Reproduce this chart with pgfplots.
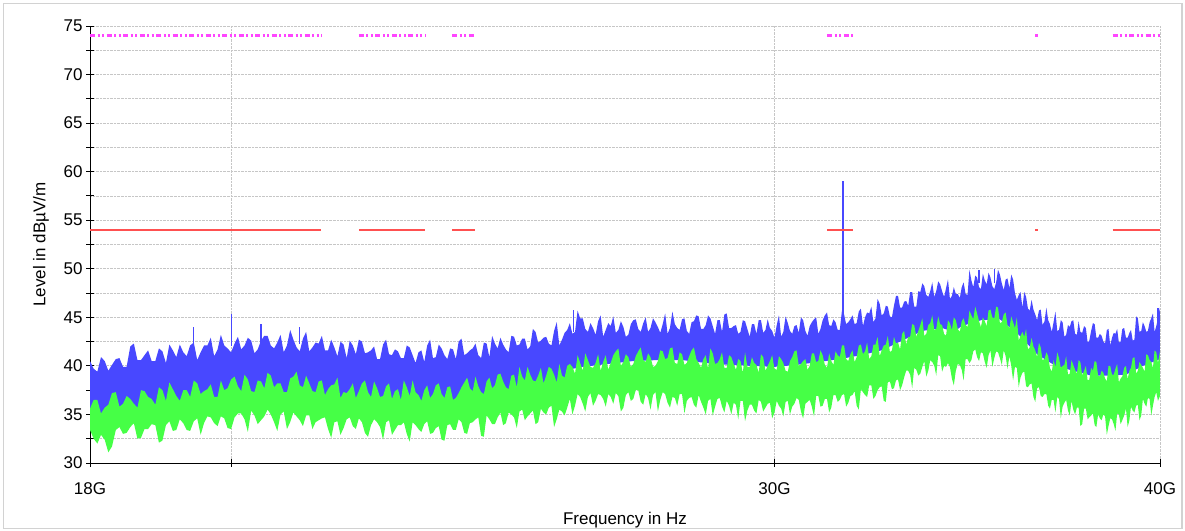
\documentclass[border=0pt]{standalone}
\usepackage{fontspec}
\setmainfont{Liberation Sans}
\usepackage{pgfplots}
\usepackage{pgfplotstable}
\pgfplotsset{compat=1.18}
\usepgfplotslibrary{fillbetween}

\definecolor{cblue}{RGB}{72,72,255}
\definecolor{cgreen}{RGB}{70,255,70}
\definecolor{cred}{RGB}{255,80,80}
\definecolor{cmag}{RGB}{255,70,255}

% f [GHz], blue (peak) upper edge, green (average) upper and lower edge [dBuV/m]
\pgfplotstableread{
f bt gt gb
18.00 40.5 35.6 33.4
18.05 39.7 36.5 32.5
18.10 39.4 36.5 32.0
18.15 40.9 35.1 32.9
18.20 40.5 35.7 32.4
18.25 39.5 36.0 31.1
18.30 40.1 37.2 31.7
18.35 40.7 37.3 33.4
18.40 40.8 35.8 33.7
18.45 39.9 36.1 33.0
18.50 39.9 36.9 33.1
18.55 42.0 36.6 33.7
18.60 42.3 36.1 34.1
18.65 40.6 35.7 32.5
18.70 40.6 37.5 32.6
18.75 41.1 37.4 33.5
18.80 41.6 36.8 33.5
18.85 40.5 36.6 34.0
18.90 40.5 36.0 33.9
18.95 41.8 37.8 32.1
19.00 41.5 37.5 32.3
19.05 40.3 36.4 33.9
19.10 42.2 38.3 34.3
19.15 41.6 37.6 33.3
19.20 40.9 36.9 33.4
19.25 42.2 36.4 34.5
19.30 41.4 37.5 34.1
19.35 41.0 37.5 33.4
19.40 42.1 36.8 33.3
19.45 42.4 38.5 34.3
19.50 40.6 38.2 34.6
19.55 41.4 37.1 32.9
19.60 42.1 37.4 34.1
19.65 42.1 37.6 34.8
19.70 42.9 38.1 34.7
19.75 41.0 36.8 34.1
19.80 41.7 36.8 33.8
19.85 43.2 38.5 34.8
19.90 42.1 37.5 34.6
19.95 41.8 37.7 33.6
20.00 41.4 38.6 33.5
20.05 42.3 38.9 34.7
20.10 43.0 37.9 35.1
20.15 41.7 37.4 35.1
20.20 42.1 39.1 34.5
20.25 42.9 38.6 33.2
20.30 42.6 37.4 35.4
20.35 41.3 37.3 34.9
20.40 41.7 38.5 34.0
20.45 42.6 38.4 34.4
20.50 43.1 37.7 34.8
20.55 43.1 39.3 35.5
20.60 42.1 39.0 35.0
20.65 41.8 37.8 34.2
20.70 42.4 38.2 33.3
20.75 43.2 38.2 35.0
20.80 41.4 37.3 35.3
20.85 42.1 37.3 33.5
20.90 43.7 38.7 34.2
20.95 42.7 38.9 35.2
21.00 41.9 39.4 34.8
21.05 41.5 38.0 34.4
21.10 42.8 37.8 33.8
21.15 43.5 39.0 34.9
21.20 41.5 38.2 34.9
21.25 41.9 37.4 33.5
21.30 42.4 37.3 34.2
21.35 42.3 38.4 34.4
21.40 43.1 38.5 34.6
21.45 41.6 37.0 34.7
21.50 41.6 37.6 33.5
21.55 42.7 38.0 32.6
21.60 41.9 38.1 34.2
21.65 41.0 38.8 34.3
21.70 42.5 36.7 32.9
21.75 42.2 37.3 33.6
21.80 40.8 37.2 34.5
21.85 42.6 37.6 34.7
21.90 42.1 38.2 33.8
21.95 41.2 36.7 33.5
22.00 42.7 37.4 34.6
22.05 42.5 38.2 34.2
22.10 41.3 38.5 33.1
22.15 41.4 37.3 32.7
22.20 41.6 36.8 33.9
22.25 42.0 38.4 34.5
22.30 40.7 37.7 34.2
22.35 40.7 36.8 33.7
22.40 42.2 36.9 32.4
22.45 42.7 37.9 34.2
22.50 41.2 38.2 34.4
22.55 41.1 36.6 32.9
22.60 41.7 37.4 33.4
22.65 41.5 37.6 33.9
22.70 40.8 36.5 33.9
22.75 40.8 38.5 34.2
22.80 42.1 37.8 33.0
22.85 41.9 36.9 32.2
22.90 41.1 38.5 34.2
22.95 40.3 37.3 33.9
23.00 41.4 37.0 33.5
23.05 41.6 36.4 33.2
23.10 40.4 37.5 34.0
23.15 42.1 38.0 34.3
23.20 42.7 36.7 33.0
23.25 40.8 37.1 33.1
23.30 40.9 38.0 33.6
23.35 42.2 38.2 33.8
23.40 41.8 37.1 32.4
23.45 41.1 36.7 32.3
23.50 40.7 37.8 33.9
23.55 41.8 37.9 34.0
23.60 41.7 36.5 33.4
23.65 40.7 36.7 33.4
23.70 42.5 37.2 34.5
23.75 42.8 37.8 34.2
23.80 41.1 38.3 33.1
23.85 41.3 38.8 33.0
23.90 41.6 37.7 34.1
23.95 41.8 37.4 34.2
24.00 42.3 38.9 34.5
24.05 41.1 37.9 34.7
24.10 40.8 37.3 32.8
24.15 42.4 37.1 32.7
24.20 42.3 38.4 34.9
24.25 40.9 38.8 34.5
24.30 43.1 37.7 34.0
24.35 42.3 38.0 34.0
24.40 41.8 39.1 34.7
24.45 42.9 39.2 35.2
24.50 42.2 38.4 33.9
24.55 41.7 37.8 34.1
24.60 41.4 37.6 35.2
24.65 43.1 39.0 35.0
24.70 43.0 39.1 34.7
24.75 42.1 37.8 33.6
24.80 42.2 39.9 35.3
24.85 42.8 38.9 35.5
24.90 42.8 38.5 34.4
24.95 41.7 39.9 34.8
25.00 42.0 39.1 35.1
25.05 43.8 38.5 35.4
25.10 43.5 38.4 34.0
25.15 42.4 39.0 34.2
25.20 42.6 39.8 35.6
25.25 42.9 38.2 35.2
25.30 43.0 39.0 35.0
25.35 42.3 39.9 35.7
25.40 42.1 39.7 35.9
25.45 43.6 39.1 33.7
25.50 44.5 38.3 34.5
25.55 42.1 40.2 35.5
25.60 42.7 39.0 35.3
25.65 43.4 38.8 34.9
25.70 43.7 40.0 35.7
25.75 44.4 40.2 36.6
25.80 43.3 39.9 35.0
25.85 43.5 39.2 35.9
25.90 45.7 41.1 37.1
25.95 44.9 40.3 36.8
26.00 44.9 39.5 36.1
26.05 43.8 41.3 35.3
26.10 43.5 40.6 36.8
26.15 44.4 39.9 37.2
26.20 43.9 39.8 35.9
26.25 43.2 40.3 36.4
26.30 44.6 41.2 37.1
26.35 45.2 39.5 37.0
26.40 43.0 40.4 36.6
26.45 43.7 41.1 35.8
26.50 44.4 39.6 37.1
26.55 44.1 40.3 36.8
26.60 45.1 41.1 36.1
26.65 43.4 41.5 37.2
26.70 43.7 41.8 36.9
26.75 44.6 40.0 35.3
26.80 44.0 40.4 35.7
26.85 43.0 41.2 37.0
26.90 43.2 40.9 37.3
26.95 44.3 39.9 36.4
27.00 44.7 40.2 36.6
27.05 44.8 41.0 37.5
27.10 43.8 41.5 37.5
27.15 43.5 41.9 36.3
27.20 44.4 40.6 36.0
27.25 45.0 40.4 37.1
27.30 43.5 41.3 36.7
27.35 43.9 40.9 35.5
27.40 44.9 39.9 37.0
27.45 44.5 40.0 37.3
27.50 44.0 40.5 35.3
27.55 43.4 41.6 36.5
27.60 44.3 41.5 37.3
27.65 45.4 40.7 37.1
27.70 43.3 40.8 36.2
27.75 43.9 41.8 35.7
27.80 45.6 41.9 36.8
27.85 44.3 40.3 36.7
27.90 43.9 40.2 35.9
27.95 43.7 41.4 37.1
28.00 44.8 41.2 37.1
28.05 44.9 40.1 35.1
28.10 43.6 40.3 36.4
28.15 43.3 41.0 36.7
28.20 44.5 41.6 36.8
28.25 44.6 41.9 36.0
28.30 45.2 40.7 35.7
28.35 45.1 40.3 37.0
28.40 43.8 39.8 36.3
28.45 43.8 40.7 35.7
28.50 44.2 41.1 35.0
28.55 45.2 39.7 36.4
28.60 44.9 41.8 36.6
28.65 44.1 41.3 34.9
28.70 43.3 40.2 35.8
28.75 44.7 40.3 36.6
28.80 44.7 40.7 36.7
28.85 43.5 41.4 35.8
28.90 45.3 39.8 35.2
28.95 45.4 39.8 36.4
29.00 43.9 41.1 35.9
29.05 43.9 40.9 35.0
29.10 44.1 40.2 36.2
29.15 44.2 39.6 36.0
29.20 43.3 40.7 34.5
29.25 43.5 40.5 36.4
29.30 44.7 39.3 36.4
29.35 44.6 41.4 34.3
29.40 43.8 39.9 35.4
29.45 43.0 39.9 36.0
29.50 44.3 40.9 36.0
29.55 44.3 40.3 35.4
29.60 43.3 40.1 35.1
29.65 44.7 39.3 36.5
29.70 44.7 41.2 36.3
29.75 43.4 40.9 35.3
29.80 43.7 39.5 35.7
29.85 44.8 40.0 36.1
29.90 43.9 40.5 36.2
29.95 43.6 41.1 34.6
30.00 42.9 39.7 35.2
30.05 44.2 39.6 36.4
30.10 45.2 41.0 35.9
30.15 43.0 40.7 35.6
30.20 43.5 40.3 34.8
30.25 45.1 39.5 36.3
30.30 44.4 39.4 36.4
30.35 43.6 40.5 35.0
30.40 43.3 40.9 35.8
30.45 44.1 41.5 36.1
30.50 44.2 41.6 36.7
30.55 43.4 40.0 36.5
30.60 45.0 40.2 35.3
30.65 44.7 40.5 34.6
30.70 43.6 40.7 36.1
30.75 43.1 39.6 36.3
30.80 44.1 40.0 36.5
30.85 44.5 41.3 35.8
30.90 44.8 41.3 34.8
30.95 45.0 40.4 36.9
31.00 43.3 40.5 36.9
31.05 43.8 41.6 35.8
31.10 44.7 41.1 35.9
31.15 45.2 40.1 36.6
31.20 45.5 39.8 36.6
31.25 44.2 41.3 35.2
31.30 44.1 40.5 35.7
31.35 44.8 40.1 37.0
31.40 44.5 41.5 37.0
31.45 43.7 41.1 36.3
31.50 43.7 40.9 36.5
31.55 45.7 42.1 37.0
31.60 45.3 42.1 37.1
31.65 44.3 40.7 35.8
31.70 44.5 40.5 36.2
31.75 44.8 41.2 36.9
31.80 45.2 41.6 37.0
31.85 44.3 40.4 37.4
31.90 44.4 40.9 35.9
31.95 45.6 42.1 35.5
32.00 45.9 42.2 37.6
32.05 44.1 41.2 37.3
32.10 45.0 41.5 37.0
32.15 45.5 42.4 36.8
32.20 45.4 40.7 38.0
32.25 46.1 41.0 38.0
32.30 44.5 42.2 36.6
32.35 44.9 42.2 36.9
32.40 46.9 43.0 37.5
32.45 46.4 41.0 37.8
32.50 45.2 41.6 37.9
32.55 45.4 42.1 36.4
32.60 46.2 42.2 36.3
32.65 46.1 43.1 38.3
32.70 45.1 41.4 38.4
32.75 45.0 41.6 37.6
32.80 46.2 43.0 37.7
32.85 47.2 42.3 38.5
32.90 47.2 42.4 38.6
32.95 46.0 41.7 37.5
33.00 46.0 43.3 38.0
33.05 46.6 43.6 38.8
33.10 46.7 42.2 39.5
33.15 46.2 43.0 39.5
33.20 47.6 43.0 39.1
33.25 47.6 44.3 37.7
33.30 46.1 44.2 39.8
33.35 46.1 43.0 39.6
33.40 47.7 43.6 39.0
33.45 47.6 44.2 39.2
33.50 48.5 44.9 39.9
33.55 48.2 43.1 40.5
33.60 47.3 43.3 38.9
33.65 47.1 44.2 39.5
33.70 47.7 44.4 40.6
33.75 48.6 45.2 40.4
33.80 47.1 43.7 40.0
33.85 47.7 43.8 39.0
33.90 48.7 45.1 41.1
33.95 48.4 44.3 41.0
34.00 47.7 44.2 39.4
34.05 47.1 43.3 40.0
34.10 48.0 43.1 39.9
34.15 48.9 44.7 40.3
34.20 46.9 44.4 39.9
34.25 47.2 43.7 38.7
34.30 48.1 45.0 38.0
34.35 47.4 44.7 39.5
34.40 47.4 43.8 40.2
34.45 47.0 43.5 40.1
34.50 48.1 44.6 39.6
34.55 48.6 44.9 38.5
34.60 47.4 44.2 40.7
34.65 47.3 44.0 40.7
34.70 49.9 45.7 40.3
34.75 48.8 45.2 40.6
34.80 48.1 44.8 41.5
34.85 49.3 46.1 41.7
34.90 49.1 45.4 40.9
34.95 48.1 44.6 40.5
35.00 47.9 44.0 41.4
35.05 49.5 45.0 41.3
35.10 48.8 44.6 40.4
35.15 48.4 44.1 39.8
35.20 49.6 45.7 41.1
35.25 49.1 45.8 41.6
35.30 48.2 45.0 39.9
35.35 47.9 44.9 40.8
35.40 48.6 46.1 41.5
35.45 49.9 46.0 41.4
35.50 49.4 44.4 40.8
35.55 48.5 44.5 40.1
35.60 47.8 45.3 41.6
35.65 48.9 45.5 41.0
35.70 49.0 44.2 39.7
35.75 48.0 43.9 41.0
35.80 49.4 45.1 40.0
35.85 48.9 44.5 38.5
35.90 47.5 43.9 39.9
35.95 46.8 45.0 39.8
36.00 47.3 42.6 37.8
36.05 47.6 43.1 38.8
36.10 46.0 43.5 39.3
36.15 47.6 43.0 39.4
36.20 47.1 43.8 37.9
36.25 45.9 41.7 37.8
36.30 45.7 41.9 38.1
36.35 46.8 42.9 38.2
36.40 45.8 42.0 36.8
36.45 45.3 41.6 36.3
36.50 44.7 40.9 37.7
36.55 45.7 42.4 37.8
36.60 45.8 41.9 36.9
36.65 44.2 40.6 36.8
36.70 44.6 40.7 37.1
36.75 46.0 41.4 37.1
36.80 44.7 41.0 35.9
36.85 44.3 39.8 35.6
36.90 43.5 39.4 36.5
36.95 44.5 40.6 36.5
37.00 45.6 39.9 35.2
37.05 43.6 41.4 36.8
37.10 43.7 40.8 36.6
37.15 44.7 39.8 34.6
37.20 44.5 40.0 35.8
37.25 43.0 40.1 36.2
37.30 43.2 41.0 36.5
37.35 44.2 39.1 35.4
37.40 44.0 39.2 34.9
37.45 44.6 40.6 36.4
37.50 44.7 40.1 35.5
37.55 43.3 39.6 35.0
37.60 43.2 39.2 35.7
37.65 44.6 40.6 35.7
37.70 43.5 40.4 33.8
37.75 43.4 39.0 34.0
37.80 44.1 39.5 35.6
37.85 43.9 40.0 35.6
37.90 42.4 38.5 34.5
37.95 42.6 38.6 34.7
38.00 43.6 39.8 34.9
38.05 44.4 39.5 35.1
38.10 44.3 40.5 33.9
38.15 42.9 40.4 33.7
38.20 42.9 39.0 35.0
38.25 43.3 38.9 34.6
38.30 43.1 39.5 34.4
38.35 42.5 39.3 35.0
38.40 42.3 38.7 34.8
38.45 43.7 38.4 32.9
38.50 43.8 40.0 33.8
38.55 42.1 40.0 34.6
38.60 42.9 39.1 34.5
38.65 43.4 39.1 34.0
38.70 43.3 39.7 33.3
38.75 43.8 40.2 35.1
38.80 42.4 38.3 35.0
38.85 42.5 38.7 34.0
38.90 43.8 38.9 34.4
38.95 43.9 39.8 34.9
39.00 42.9 40.0 35.6
39.05 42.9 38.6 33.7
39.10 43.4 39.5 34.4
39.15 43.7 39.8 35.8
39.20 42.6 40.8 35.4
39.25 42.7 40.9 35.2
39.30 45.1 39.2 35.9
39.35 44.9 39.5 36.0
39.40 43.5 40.4 34.4
39.45 43.6 40.1 34.9
39.50 44.5 39.8 36.6
39.55 44.1 39.4 36.1
39.60 43.5 41.2 35.8
39.65 43.6 41.1 36.7
39.70 44.5 40.6 36.6
39.75 44.9 40.4 34.9
39.80 45.4 39.8 35.9
39.85 43.5 41.6 36.8
39.90 44.1 41.4 37.3
39.95 44.9 40.3 36.4
40.00 46.0 41.5 36.9
}\trace

% lower edge of the blue (peak) trace
\pgfplotstableread{
f bb
18.0 34.5
18.5 35.1
19.0 35.5
19.5 36.0
20.0 36.5
20.5 36.7
21.0 36.7
21.5 36.3
22.0 36.0
22.5 35.9
23.0 35.8
23.5 35.9
24.0 36.4
24.5 36.9
25.0 37.4
25.5 37.8
25.7 37.9
25.8 39.7
26.0 39.9
26.5 40.2
27.0 40.5
27.5 40.6
28.0 40.6
28.5 40.3
29.0 40.1
29.5 40.0
30.0 39.9
30.5 40.1
31.0 40.4
31.5 40.7
32.0 41.1
32.5 41.6
33.0 42.6
33.5 43.6
34.0 43.9
34.3 43.5
34.5 44.1
35.0 44.7
35.5 44.8
36.0 43.2
36.5 41.2
37.0 40.0
37.5 39.5
38.0 39.0
38.5 39.0
39.0 39.1
39.5 40.0
40.0 40.7
}\bluebot

\begin{document}
\begin{tikzpicture}
\begin{axis}[
  at={(90bp,68bp)}, anchor=south west,
  scale only axis, width=1070bp, height=437bp,
  xmode=log, xmin=18, xmax=40, ymin=30, ymax=75,
  xtick={18,20,30,40}, xticklabels={18G,,30G,40G},
  minor xtick={},
  ytick={30,35,...,75}, minor y tick num=1,
  axis x line*=bottom, axis y line*=left,
  axis line style={black, line width=0.9bp},
  tick style={black, line width=0.9bp},
  tick align=center, major tick length=8bp, minor tick length=8bp,
  xmajorgrids, ymajorgrids, yminorgrids,
  grid style={densely dotted, gray!45, line width=0.8bp},
  /pgf/number format/assume math mode=true,
  ticklabel style={font=\fontsize{17bp}{20bp}\selectfont},
  xticklabel style={yshift=-12bp},
  label style={font=\fontsize{17bp}{20bp}\selectfont},
  xlabel={Frequency in Hz},
  xlabel style={at={(axis description cs:0.5,-0.1396)}, anchor=base},
  ylabel={Level in dBµV/m},
  ylabel style={at={(axis description cs:-0.0458,0.5)}, anchor=center},
]
% peak trace (blue)
\addplot[draw=none, name path=BT] table[x=f,y=bt]{\trace};
\addplot[draw=none, name path=BB] table[x=f,y=bb]{\bluebot};
\addplot[fill=cblue, draw=none] fill between[of=BT and BB];
\addplot[cblue, line width=1.2bp, unbounded coords=jump] coordinates {
 (19.45,41.5) (19.45,44.0) (19.46,nan)
 (20.0,42.0) (20.0,45.3) (20.01,nan)
 (20.45,42.3) (20.45,44.3) (20.46,nan)
 (21.05,42.3) (21.05,44.0) (21.06,nan)
 (25.82,43.5) (25.82,45.8) (25.83,nan)
 (34.95,48.5) (34.95,49.9) (34.96,nan)
 (35.35,48.5) (35.35,50.0) (35.36,nan)
 (39.95,44.5) (39.95,46.0)
};
% average trace (green)
\addplot[draw=none, name path=GT] table[x=f,y=gt]{\trace};
\addplot[draw=none, name path=GB] table[x=f,y=gb]{\trace};
\addplot[fill=cgreen, draw=none] fill between[of=GT and GB];
% single carrier spike
\addplot[cblue, line width=2bp] coordinates {(31.58,44.0) (31.58,59.0)};
% limit lines
\addplot[cred, line width=2.5bp, unbounded coords=jump] coordinates {
 (18,54) (21.39,54) (21.5,nan) (22.00,54) (23.12,54) (23.3,nan)
 (23.59,54) (24.00,54) (25,nan) (31.20,54) (31.81,54) (32,nan)
 (36.45,54) (36.52,54) (37,nan) (38.62,54) (40,54)};
\addplot[cmag, line width=2.5bp, unbounded coords=jump,
  dash pattern=on 5bp off 2.5bp on 2bp off 2.5bp on 2bp off 2.5bp] coordinates {
 (18,74) (21.39,74) (21.5,nan) (22.00,74) (23.12,74) (23.3,nan)
 (23.59,74) (24.00,74) (25,nan) (31.20,74) (31.81,74) (32,nan)
 (36.45,74) (36.52,74) (37,nan) (38.62,74) (40,74)};
\end{axis}
\draw[gray!35, line width=1.5bp] (3.5bp,2.5bp) rectangle (1182bp,527.5bp);
\path[use as bounding box] (0,0) rectangle (1185bp,531bp);
\end{tikzpicture}
\end{document}
